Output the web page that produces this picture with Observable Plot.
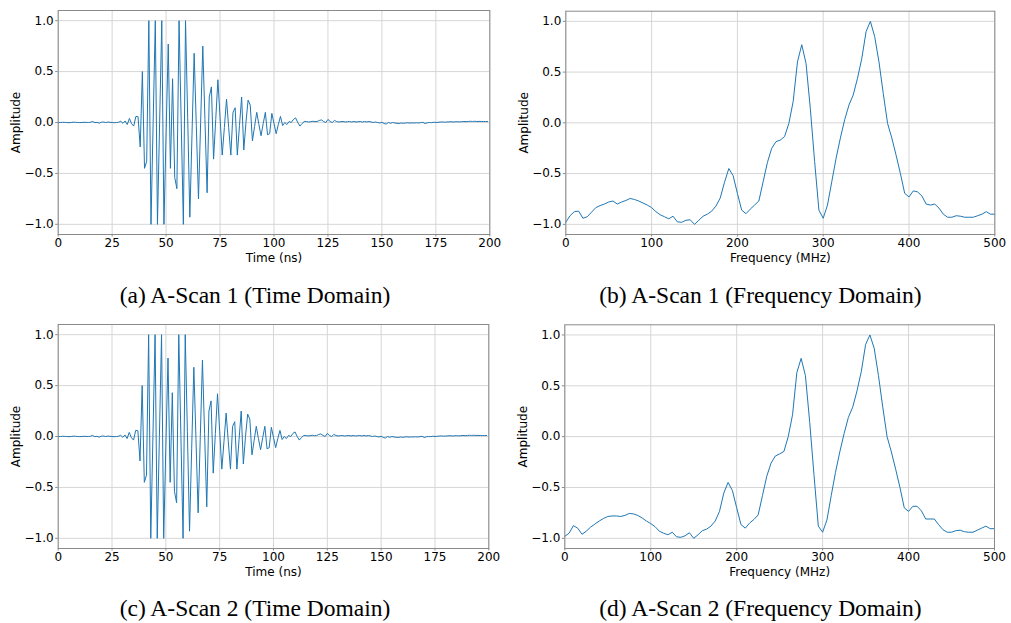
<!DOCTYPE html>
<html><head><meta charset="utf-8">
<script src="https://cdn.jsdelivr.net/npm/d3@7"></script>
<script src="https://cdn.jsdelivr.net/npm/@observablehq/plot@0.6"></script>
<style>
html,body{margin:0;padding:0;background:#fff;}
#root{position:relative;width:1011px;height:623px;overflow:hidden;background:#fff;}
.panel{position:absolute;}
.cap{position:absolute;width:520px;text-align:center;font-family:"Liberation Serif","Times New Roman",serif;font-size:23.5px;line-height:23.5px;color:#000;white-space:nowrap;}
</style></head><body><div id="root"></div>
<script>
// ---- tick labels ----
const timeTicks = [0, 25, 50, 75, 100, 125, 150, 175, 200];
const freqTicks = [0, 100, 200, 300, 400, 500];
const ampTicks = [-1, -0.5, 0, 0.5, 1];
const timeStepNs = 1;
const freqStepMHz = 5;

// ---- A-Scan 1, time domain (1 ns samples, 0..199 ns) ----
const scan1Time = [
  0, 0, 0.002, 0.001, 0, -0.002, 0, 0.003, 0.002, 0,
  -0.001, 0, 0.002, 0.001, 0, 0.003, 0.01, -0.002, 0.002, -0.007,
  0.003, 0.005, 0, 0.004, 0.002, 0, -0.002, 0, 0.002, 0.012,
  -0.008, 0.015, -0.02, 0.04, -0.012, -0.035, 0.06, 0.057, -0.24, 0.5,
  -0.45, -0.38, 1, -1, 0, 1, -1, 0, 1, -1,
  -0.1, 0.77, -0.45, 0.43, -0.54, -0.65, 1, 0, -1, 1,
  0.05, -0.93, -0.12, 0.68, -0.03, -0.75, 0, 0.75, 0.03, -0.69,
  0.25, 0.35, -0.36, 0.03, 0.42, 0.05, -0.32, -0.05, 0.23, -0.05,
  -0.32, 0.1, 0.145, -0.32, -0.03, 0.25, -0.27, 0, 0.22, 0.17,
  -0.18, -0.04, 0.1, -0.02, -0.13, -0.01, 0.1, -0.12, -0.11, 0.09,
  -0.01, -0.11, -0.02, 0.06, -0.03, 0, -0.02, 0.01, 0, 0.03,
  0.045, 0, -0.035, -0.01, 0.01, 0.01, 0.005, 0.008, 0.012, 0.008,
  0.01, 0.02, 0.025, 0.01, 0, 0.03, 0.01, 0, 0.02, 0.01,
  0.005, 0.008, 0.01, 0.005, 0.008, 0.01, 0.005, 0.01, 0.005, 0.008,
  0.01, 0.005, 0.01, 0.005, 0.01, 0.005, 0, 0.005, 0, -0.005,
  0.002, -0.01, -0.015, 0, -0.008, 0, -0.005, -0.008, -0.01, -0.005,
  -0.008, -0.005, -0.003, -0.006, -0.004, -0.005, -0.003, -0.005, -0.002, 0.002,
  -0.01, -0.003, 0, -0.002, 0.003, 0, 0.002, 0.004, 0.006, 0.003,
  0.005, 0.006, 0.008, 0.005, 0.007, 0.008, 0.006, 0.008, 0.01, 0.008,
  0.01, 0.012, 0.01, 0.012, 0.01, 0.011, 0.01, 0.01, 0.009, 0.01
];

// ---- A-Scan 2, time domain ----
const scan2Time = [
  0, 0, 0.002, 0.001, 0, -0.002, 0, 0.003, 0.002, 0,
  -0.001, 0, 0.002, 0.001, 0, 0.003, 0.01, -0.002, 0.002, -0.007,
  0.003, 0.005, 0, 0.004, 0.002, 0, -0.002, 0, 0.002, 0.012,
  -0.008, 0.015, -0.02, 0.04, -0.012, -0.035, 0.06, 0.057, -0.24, 0.5,
  -0.45, -0.38, 1, -1, 0, 1, -1, 0, 1, -1,
  -0.1, 0.77, -0.45, 0.43, -0.54, -0.65, 1, 0, -1, 1,
  0.05, -0.93, -0.12, 0.68, -0.03, -0.75, 0, 0.75, 0.03, -0.69,
  0.25, 0.35, -0.36, 0.03, 0.42, 0.05, -0.32, -0.05, 0.23, -0.05,
  -0.32, 0.1, 0.145, -0.32, -0.03, 0.25, -0.27, 0, 0.22, 0.17,
  -0.18, -0.04, 0.1, -0.02, -0.13, -0.01, 0.1, -0.12, -0.11, 0.09,
  -0.01, -0.11, -0.02, 0.06, -0.03, 0, -0.02, 0.01, 0, 0.03,
  0.045, 0, -0.035, -0.01, 0.01, 0.01, 0.005, 0.008, 0.012, 0.008,
  0.01, 0.02, 0.025, 0.01, 0, 0.03, 0.01, 0, 0.02, 0.01,
  0.005, 0.008, 0.01, 0.005, 0.008, 0.01, 0.005, 0.01, 0.005, 0.008,
  0.01, 0.005, 0.01, 0.005, 0.01, 0.005, 0, 0.005, 0, -0.005,
  0.002, -0.01, -0.015, 0, -0.008, 0, -0.005, -0.008, -0.01, -0.005,
  -0.008, -0.005, -0.003, -0.006, -0.004, -0.005, -0.003, -0.005, -0.002, 0.002,
  -0.01, -0.003, 0, -0.002, 0.003, 0, 0.002, 0.004, 0.006, 0.003,
  0.005, 0.006, 0.008, 0.005, 0.007, 0.008, 0.006, 0.008, 0.01, 0.008,
  0.01, 0.012, 0.01, 0.012, 0.01, 0.011, 0.01, 0.01, 0.009, 0.01
];

// ---- A-Scan 1, frequency domain (5 MHz bins, 0..500 MHz) ----
const scan1Freq = [
  -0.98, -0.915, -0.875, -0.87, -0.94, -0.925, -0.88, -0.835, -0.815, -0.8,
  -0.78, -0.77, -0.8, -0.78, -0.765, -0.745, -0.755, -0.77, -0.79, -0.81,
  -0.835, -0.875, -0.905, -0.925, -0.945, -0.92, -0.975, -0.98, -0.96, -0.955,
  -1.0, -0.96, -0.92, -0.9, -0.87, -0.82, -0.74, -0.585, -0.45, -0.52,
  -0.695, -0.86, -0.895, -0.85, -0.81, -0.77, -0.58, -0.39, -0.25, -0.185,
  -0.17, -0.135, -0.005, 0.21, 0.6, 0.77, 0.585, 0.14, -0.38, -0.86,
  -0.94, -0.81, -0.58, -0.35, -0.15, 0.03, 0.175, 0.275, 0.44, 0.635,
  0.9, 1.0, 0.85, 0.6, 0.29, -0.005, -0.15, -0.32, -0.5, -0.695,
  -0.73, -0.67, -0.68, -0.72, -0.8, -0.81, -0.8, -0.84, -0.9, -0.93,
  -0.93, -0.915, -0.92, -0.93, -0.93, -0.93, -0.915, -0.9, -0.875, -0.9,
  -0.9
];

// ---- A-Scan 2, frequency domain ----
const scan2Freq = [
  -0.98, -0.95, -0.875, -0.9, -0.96, -0.93, -0.89, -0.86, -0.83, -0.805,
  -0.785, -0.78, -0.78, -0.785, -0.775, -0.755, -0.76, -0.775, -0.8, -0.83,
  -0.855, -0.885, -0.93, -0.95, -0.965, -0.94, -0.985, -0.99, -0.975, -0.945,
  -1.0, -0.965, -0.925, -0.91, -0.88, -0.83, -0.735, -0.555, -0.45, -0.53,
  -0.7, -0.865, -0.9, -0.85, -0.815, -0.77, -0.58, -0.39, -0.26, -0.19,
  -0.17, -0.145, 0.0, 0.215, 0.63, 0.77, 0.6, 0.14, -0.38, -0.88,
  -0.94, -0.82, -0.58, -0.35, -0.15, 0.03, 0.19, 0.29, 0.45, 0.64,
  0.905, 1.0, 0.87, 0.6, 0.29, 0.0, -0.15, -0.32, -0.5, -0.7,
  -0.735, -0.685, -0.685, -0.73, -0.81, -0.81, -0.81, -0.865, -0.915, -0.94,
  -0.94, -0.925, -0.92, -0.935, -0.94, -0.94, -0.92, -0.9, -0.88, -0.905,
  -0.905
];

const captions = [
  "(a) A-Scan 1 (Time Domain)",
  "(b) A-Scan 1 (Frequency Domain)",
  "(c) A-Scan 2 (Time Domain)",
  "(d) A-Scan 2 (Frequency Domain)"
];

const root = document.getElementById("root");
const ampFmt = d => (d < 0 ? "\u2212" : "") + Math.abs(d).toFixed(1);

function makePanel(cfg) {
  const data = cfg.values.map((v, i) => ({x: i * cfg.step, y: v}));
  const chart = Plot.plot({
    width: 500,
    height: 270,
    marginLeft: cfg.ml,
    marginRight: cfg.mr,
    marginTop: cfg.mt,
    marginBottom: cfg.mb,
    x: {domain: cfg.xDomain},
    y: {domain: [-1.1, 1.1]},
    style: {fontFamily: "DejaVu Sans", fontSize: "12px", color: "#000", background: "transparent", overflow: "visible"},
    marks: [
      Plot.gridX(cfg.xTicks, {stroke: "#d6d6d6", strokeOpacity: 1, strokeWidth: 1}),
      Plot.gridY(ampTicks, {stroke: "#d6d6d6", strokeOpacity: 1, strokeWidth: 1}),
      Plot.line(data, {x: "x", y: "y", stroke: "#1f77b4", strokeWidth: 1}),
      Plot.frame({stroke: "#8a8a8a", strokeWidth: 1}),
      Plot.axisX(cfg.xTicks, {tickSize: 2.5, tickPadding: 1.5, stroke: "#8a8a8a", tickFormat: d => String(d), label: null}),
      Plot.axisY(ampTicks, {tickSize: 2.5, tickPadding: 2, stroke: "#8a8a8a", tickFormat: ampFmt, label: null}),
      Plot.text([cfg.xLabel], {text: d => d, frameAnchor: "bottom", lineAnchor: "middle", textAnchor: "middle", dy: 23.5, fontSize: 12}),
      Plot.text(["Amplitude"], {text: d => d, frameAnchor: "left", lineAnchor: "middle", textAnchor: "middle", dx: -42, rotate: -90, fontSize: 12})
    ]
  });
  const div = document.createElement("div");
  div.className = "panel";
  div.style.left = cfg.left + "px";
  div.style.top = cfg.top + "px";
  div.appendChild(chart);
  root.appendChild(div);

  const cap = document.createElement("div");
  cap.className = "cap";
  cap.textContent = cfg.caption;
  cap.style.left = (cfg.capX - 260) + "px";
  cap.style.top = cfg.capTop + "px";
  root.appendChild(cap);
}

makePanel({values: scan1Time, step: timeStepNs, xDomain: [0, 200], xTicks: timeTicks, xLabel: "Time (ns)",
  left: 0, top: 0, ml: 57.7, mr: 10.7, mt: 10, mb: 36, caption: captions[0], capX: 255, capTop: 284});
makePanel({values: scan1Freq, step: freqStepMHz, xDomain: [0, 500], xTicks: freqTicks, xLabel: "Frequency (MHz)",
  left: 505, top: 0, ml: 60.3, mr: 10.7, mt: 10.7, mb: 36, caption: captions[1], capX: 760.5, capTop: 284});
makePanel({values: scan2Time, step: timeStepNs, xDomain: [0, 200], xTicks: timeTicks, xLabel: "Time (ns)",
  left: 0, top: 314, ml: 57.7, mr: 11.7, mt: 10, mb: 36, caption: captions[2], capX: 255, capTop: 596.7});
makePanel({values: scan2Freq, step: freqStepMHz, xDomain: [0, 500], xTicks: freqTicks, xLabel: "Frequency (MHz)",
  left: 505, top: 314, ml: 59.3, mr: 11, mt: 10.3, mb: 36, caption: captions[3], capX: 760.5, capTop: 596.7});
</script>
</body></html>
